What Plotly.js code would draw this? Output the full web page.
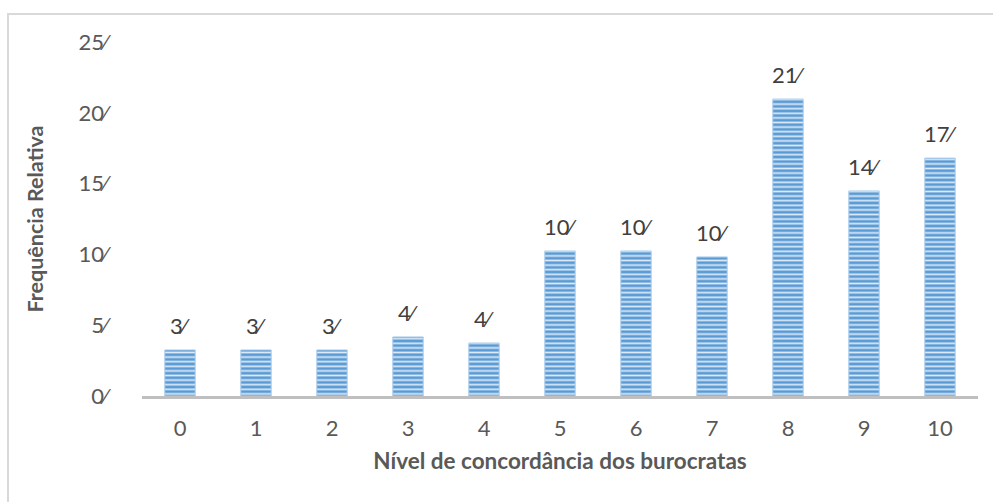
<!DOCTYPE html>
<html>
<head>
<meta charset="utf-8">
<script src="https://cdn.plot.ly/plotly-3.0.1.min.js"></script>
<style>
  html, body { margin: 0; padding: 0; background: #ffffff; }
  #wrap { position: relative; width: 993px; height: 502px; overflow: hidden; }
  #frame { position: absolute; left: 7px; top: 13px; width: 1000px; height: 600px;
           border-left: 2px solid #d9d9d9; border-top: 2px solid #d9d9d9; }
  #chart { position: absolute; left: 0; top: 0; width: 993px; height: 502px; }
</style>
</head>
<body>
<div id="wrap">
  <div id="frame"></div>
  <div id="chart"></div>
</div>
<script>
// Data
const categories = ["0", "1", "2", "3", "4", "5", "6", "7", "8", "9", "10"];
const values = [3.25, 3.25, 3.25, 4.17, 3.74, 10.24, 10.24, 9.82, 20.97, 14.48, 16.8];
const barLabels = ["3⁄", "3⁄", "3⁄", "4⁄", "4⁄", "10⁄", "10⁄", "10⁄", "21⁄", "14⁄", "17⁄"];
const yTickVals = [0, 5, 10, 15, 20, 25];
const yTickText = ["0⁄", "5⁄", "10⁄", "15⁄", "20⁄", "25⁄"];
const xTitle = "Nível de concordância dos burocratas";
const yTitle = "Frequência Relativa";

const FONT = "Lato, 'Open Sans', sans-serif";

const trace = {
  type: "bar",
  x: categories,
  y: values,
  marker: {
    color: "#5b9bd5",
    line: { color: "#a9cbeb", width: 1 },
    pattern: { shape: "-", fgcolor: "#dbe9f7", bgcolor: "#5b9bd5", size: 4.6, solidity: 0.38, fillmode: "replace" }
  },
  hoverinfo: "skip",
  showlegend: false
};

const annotations = categories.map((c, i) => ({
  x: c, y: values[i], xref: "x", yref: "y",
  text: barLabels[i], showarrow: false,
  yanchor: "bottom", yshift: 9,
  font: { family: FONT, size: 22, color: "#404040" }
}));

const layout = {
  width: 993, height: 502,
  paper_bgcolor: "rgba(0,0,0,0)",
  plot_bgcolor: "rgba(0,0,0,0)",
  margin: { l: 142, r: 15, t: 42, b: 106 },
  bargap: 0.6,
  font: { family: FONT, color: "#595959" },
  xaxis: {
    type: "category",
    range: [-0.5, 10.5],
    showline: true, linecolor: "#bfbfbf", linewidth: 2.5,
    showgrid: false, zeroline: false,
    ticks: "", ticklabelstandoff: 11,
    tickfont: { family: FONT, size: 22, color: "#595959" },
    title: { text: xTitle, standoff: 14, font: { family: FONT, size: 22.5, color: "#595959", weight: "bold" } }
  },
  yaxis: {
    range: [0, 25],
    tickmode: "array", tickvals: yTickVals, ticktext: yTickText,
    showline: false, showgrid: false, zeroline: false,
    ticks: "", ticklabelstandoff: 34,
    tickfont: { family: FONT, size: 22, color: "#595959" },
    title: { text: yTitle, standoff: 28, font: { family: FONT, size: 21.5, color: "#595959", weight: "bold" } }
  },
  annotations: annotations
};

Plotly.newPlot("chart", [trace], layout, { displayModeBar: false, staticPlot: true });
</script>
</body>
</html>
